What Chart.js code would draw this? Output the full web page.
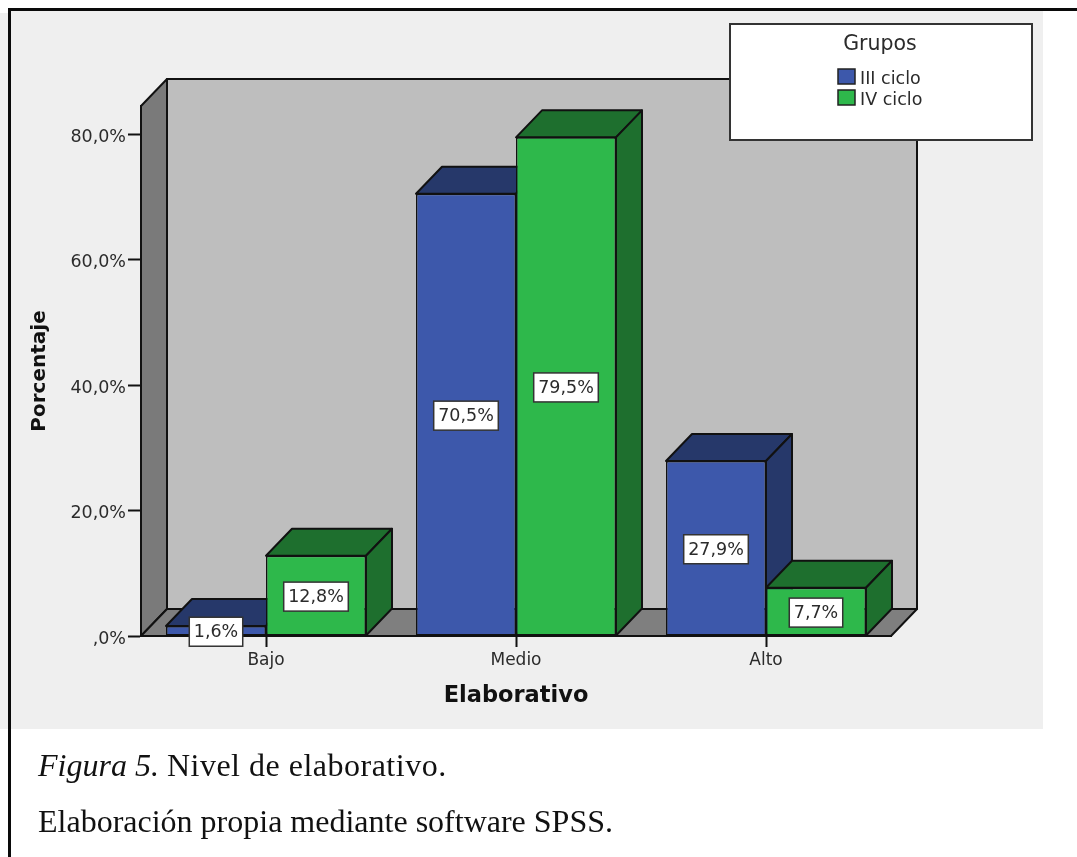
<!DOCTYPE html>
<html>
<head>
<meta charset="utf-8">
<title>Nivel de elaborativo</title>
<script src="https://cdn.jsdelivr.net/npm/chart.js@4/dist/chart.umd.min.js"></script>
<style>
  html, body { margin: 0; padding: 0; background: #fff; overflow: hidden; }
  #page { position: relative; width: 1077px; height: 857px; overflow: hidden; }
  #panel { position: absolute; left: 0; top: 13px; width: 1043px; height: 716px; background: #efefef; }
  #panelTop { position: absolute; left: 10px; top: 9px; width: 1033px; height: 6px; background: #efefef; }
  #lineTop { position: absolute; left: 8px; top: 8px; width: 1069px; height: 3px; background: #0a0a0a; }
  #lineLeft { position: absolute; left: 8px; top: 8px; width: 3px; height: 849px; background: #0a0a0a; }
  canvas { position: absolute; left: 0; top: 0; }
  .caption { position: absolute; left: 38px; font: 32px "Liberation Serif", serif; color: #111; white-space: nowrap; }
</style>
</head>
<body>
<div id="page">
  <div id="panel"></div>
  <div id="panelTop"></div>
  <div id="lineTop"></div>
  <div id="lineLeft"></div>
  <canvas id="chart" width="1077" height="857"></canvas>
  <div class="caption" style="top:747px"><i>Figura 5.</i> <span style="letter-spacing:0.5px">Nivel de elaborativo.</span></div>
  <div class="caption" style="top:803px">Elaboración propia mediante software SPSS.</div>
</div>
<script>
const categories = ["Bajo", "Medio", "Alto"];
const seriesNames = ["III ciclo", "IV ciclo"];
const cicloIII = [1.6, 70.5, 27.9];
const cicloIV = [12.8, 79.5, 7.7];
const yTicks = [0, 20, 40, 60, 80];
const yMax = 84.5;

const colors = ["#3d58ab", "#2eb84b"];
const darkColors = ["#26386a", "#1e6f2e"];
const lineColor = "#111";
const textColor = "#2b2b2b";
const labelFont = '17.5px "DejaVu Sans"';
const depthX = 26;   // 3d offset of the box
const depthY = 27;

function pct(v) {
  return v === 0 ? ",0%" : v.toFixed(1).replace(".", ",") + "%";
}

function poly(ctx, pts, fill) {
  ctx.beginPath();
  pts.forEach((p, i) => i ? ctx.lineTo(p[0], p[1]) : ctx.moveTo(p[0], p[1]));
  ctx.closePath();
  ctx.fillStyle = fill;
  ctx.fill();
  ctx.lineWidth = 2;
  ctx.strokeStyle = lineColor;
  ctx.lineJoin = "round";
  ctx.stroke();
}

// walls, floor and the top / side faces of the bars
const box3d = {
  id: "box3d",
  beforeDatasetsDraw(chart) {
    const ctx = chart.ctx;
    const a = chart.chartArea;
    ctx.save();
    poly(ctx, [[a.left + depthX, a.top - depthY], [a.right + depthX, a.top - depthY],
      [a.right + depthX, a.bottom - depthY], [a.left + depthX, a.bottom - depthY]], "#bebebe");
    poly(ctx, [[a.left, a.top], [a.left + depthX, a.top - depthY],
      [a.left + depthX, a.bottom - depthY], [a.left, a.bottom]], "#7a7a7a");
    poly(ctx, [[a.left, a.bottom], [a.left + depthX, a.bottom - depthY],
      [a.right + depthX, a.bottom - depthY], [a.right, a.bottom]], "#7f7f7f");
    categories.forEach((c, i) => {
      chart.data.datasets.forEach((ds, d) => {
        const bar = chart.getDatasetMeta(d).data[i];
        const l = bar.x - bar.width / 2, r = bar.x + bar.width / 2;
        poly(ctx, [[l, bar.y], [l + depthX, bar.y - depthY], [r + depthX, bar.y - depthY], [r, bar.y]], darkColors[d]);
        poly(ctx, [[r, bar.y], [r + depthX, bar.y - depthY], [r + depthX, bar.base - depthY], [r, bar.base]], darkColors[d]);
      });
    });
    ctx.restore();
  },
  afterDatasetsDraw(chart) {
    // value boxes in the middle of each bar
    const ctx = chart.ctx;
    ctx.save();
    ctx.font = labelFont;
    ctx.textAlign = "center";
    ctx.textBaseline = "middle";
    chart.data.datasets.forEach((ds, d) => {
      chart.getDatasetMeta(d).data.forEach((bar, i) => {
        const txt = pct(ds.data[i]);
        const w = ctx.measureText(txt).width + 9;
        const cy = (bar.y + bar.base) / 2 + 1;
        ctx.fillStyle = "#fff";
        ctx.fillRect(bar.x - w / 2, cy - 14.5, w, 29);
        ctx.lineWidth = 1.5;
        ctx.strokeStyle = "#333";
        ctx.strokeRect(bar.x - w / 2, cy - 14.5, w, 29);
        ctx.fillStyle = textColor;
        ctx.fillText(txt, bar.x, cy + 1);
      });
    });
    ctx.restore();
  },
  afterDraw(chart) {
    // legend box sits over the top right corner of the wall
    const ctx = chart.ctx;
    ctx.save();
    ctx.fillStyle = "#fff";
    ctx.fillRect(730, 24, 302, 116);
    ctx.lineWidth = 2;
    ctx.strokeStyle = "#333";
    ctx.strokeRect(730, 24, 302, 116);
    ctx.fillStyle = textColor;
    ctx.textBaseline = "middle";
    ctx.textAlign = "center";
    ctx.font = '20.5px "DejaVu Sans"';
    ctx.fillText("Grupos", 880, 45);
    ctx.textAlign = "left";
    ctx.font = '17.5px "DejaVu Sans"';
    chart.data.datasets.forEach((ds, d) => {
      const y = 69 + d * 21;
      ctx.fillStyle = colors[d];
      ctx.fillRect(838, y, 17, 15);
      ctx.lineWidth = 1.5;
      ctx.strokeStyle = "#222";
      ctx.strokeRect(838, y, 17, 15);
      ctx.fillStyle = textColor;
      ctx.fillText(ds.label, 860, y + 10);
    });
    ctx.restore();
  }
};

new Chart(document.getElementById("chart"), {
  type: "bar",
  data: {
    labels: categories,
    datasets: [
      { label: seriesNames[0], data: cicloIII, backgroundColor: colors[0] },
      { label: seriesNames[1], data: cicloIV, backgroundColor: colors[1] }
    ]
  },
  plugins: [box3d],
  options: {
    responsive: false,
    animation: false,
    layout: { padding: { left: 0, top: 106, right: 186, bottom: 147 } },
    datasets: {
      bar: {
        categoryPercentage: 0.8,
        barPercentage: 1,
        borderWidth: 1.5,
        borderColor: lineColor,
        borderSkipped: false
      }
    },
    plugins: { legend: { display: false }, tooltip: { enabled: false } },
    scales: {
      x: {
        afterFit(s) { s.height = 74; },
        grid: { offset: false, drawOnChartArea: false, tickLength: 11, tickColor: lineColor, tickWidth: 2 },
        border: { color: lineColor, width: 2 },
        ticks: { color: textColor, font: { family: "DejaVu Sans", size: 17 }, padding: 3, maxRotation: 0 },
        title: {
          display: true,
          text: "Elaborativo",
          color: "#111",
          font: { family: "DejaVu Sans", size: 22.5, weight: "bold" },
          padding: { top: 0, bottom: 0 }
        }
      },
      y: {
        min: 0,
        max: yMax,
        afterFit(s) { s.width = 141; },
        afterBuildTicks(s) { s.ticks = yTicks.map(v => ({ value: v })); },
        grid: { drawOnChartArea: false, tickLength: 13, tickColor: lineColor, tickWidth: 2 },
        border: { color: lineColor, width: 2 },
        ticks: { color: textColor, font: { family: "DejaVu Sans", size: 17.5 }, padding: 2, labelOffset: 3, callback: v => pct(v) },
        title: {
          display: true,
          text: "Porcentaje",
          color: "#111",
          font: { family: "DejaVu Sans", size: 20, weight: "bold" },
          padding: { top: 28, bottom: 0 }
        }
      }
    }
  }
});
</script>
</body>
</html>
